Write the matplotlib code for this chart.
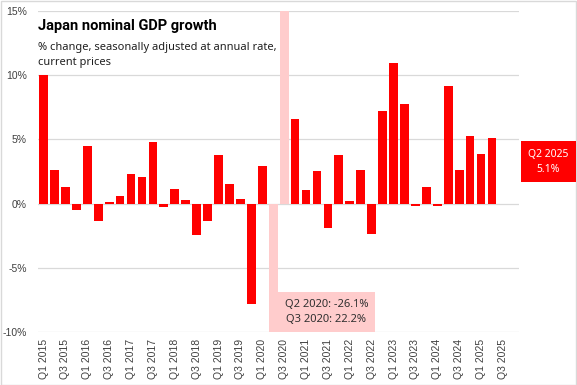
import numpy as np
import matplotlib.pyplot as plt
from matplotlib.patches import Rectangle

years = list(range(2015, 2026))
quarters = [f'Q{q} {y}' for y in years for q in range(1, 5)]
growth = [10.0, 2.64, 1.27, -0.52,
          4.5, -1.37, 0.16, 0.62,
          2.33, 2.09, 4.81, -0.28,
          1.16, 0.31, -2.45, -1.37,
          3.8, 1.55, 0.39, -7.8,
          2.95, -26.1, 22.2, 6.6,
          1.07, 2.55, -1.92, 3.79,
          0.21, 2.62, -2.36, 7.22,
          10.99, 7.77, -0.22, 1.3,
          -0.16, 9.17, 2.62, 5.27,
          3.87, 5.12, np.nan, np.nan]
outliers = ['Q2 2020', 'Q3 2020']
tick_labels = [q if q.startswith(('Q1', 'Q3')) else '' for q in quarters]

plt.rcParams['font.family'] = ['Liberation Sans', 'DejaVu Sans']

fig = plt.figure(figsize=(5.77, 3.85), dpi=100)
ax = fig.add_axes([0.066, 0.138, 0.834, 0.833])

x = np.arange(len(quarters))
colors = ['#ffcccc' if q in outliers else '#ff0000' for q in quarters]
ax.bar(x, growth, width=0.8, color=colors, zorder=2)

ax.set_ylim(-10, 15)
ax.set_xlim(-0.5, len(quarters) - 0.5)
ax.set_yticks([-10, -5, 0, 5, 10, 15])
ax.set_yticklabels([f'{v}%' for v in [-10, -5, 0, 5, 10, 15]])
ax.set_xticks(x)
ax.set_xticklabels(tick_labels, rotation=90)
ax.tick_params(axis='both', length=0, labelsize=7.5, colors='#404040')
ax.tick_params(axis='y', pad=8)
ax.tick_params(axis='x', pad=5)
ax.grid(axis='y', color='#d9d9d9', linewidth=0.9, zorder=0)
for s in ax.spines.values():
    s.set_visible(False)

ax.text(0.0, 0.975, 'Japan nominal GDP growth', transform=ax.transAxes,
        fontsize=10.5, fontweight='bold', va='top',
        family=['Roboto', 'DejaVu Sans'])
ax.text(0.0, 0.905, '% change, seasonally adjusted at annual rate,\ncurrent prices',
        transform=ax.transAxes, fontsize=8, va='top', linespacing=1.5,
        family=['Noto Sans', 'DejaVu Sans'], color='#202020')

i2, i3 = quarters.index('Q2 2020'), quarters.index('Q3 2020')
ax.text(i3 + 3.85, -8.45, f'Q2 2020: {growth[i2]}%\nQ3 2020: {growth[i3]}%',
        ha='center', va='center', fontsize=8, color='#303030',
        family=['Noto Sans', 'DejaVu Sans'], linespacing=1.5,
        bbox=dict(boxstyle='square,pad=0.6', fc='#ffcccc', ec='none'), zorder=3)

last = quarters.index('Q2 2025')
fig.text(0.95, 0.58, f'{quarters[last]}\n{growth[last]:.1f}%', ha='center', va='center',
         fontsize=7.5, color='white', family=['Noto Sans', 'DejaVu Sans'],
         linespacing=1.5,
         bbox=dict(boxstyle='square,pad=0.7', fc='#ff0000', ec='none'))

fig.patches.append(Rectangle((0.001, 0.001), 0.997, 0.996, transform=fig.transFigure,
                             fill=False, ec='#d9d9d9', lw=1))

fig.savefig('out.png', dpi=100)
